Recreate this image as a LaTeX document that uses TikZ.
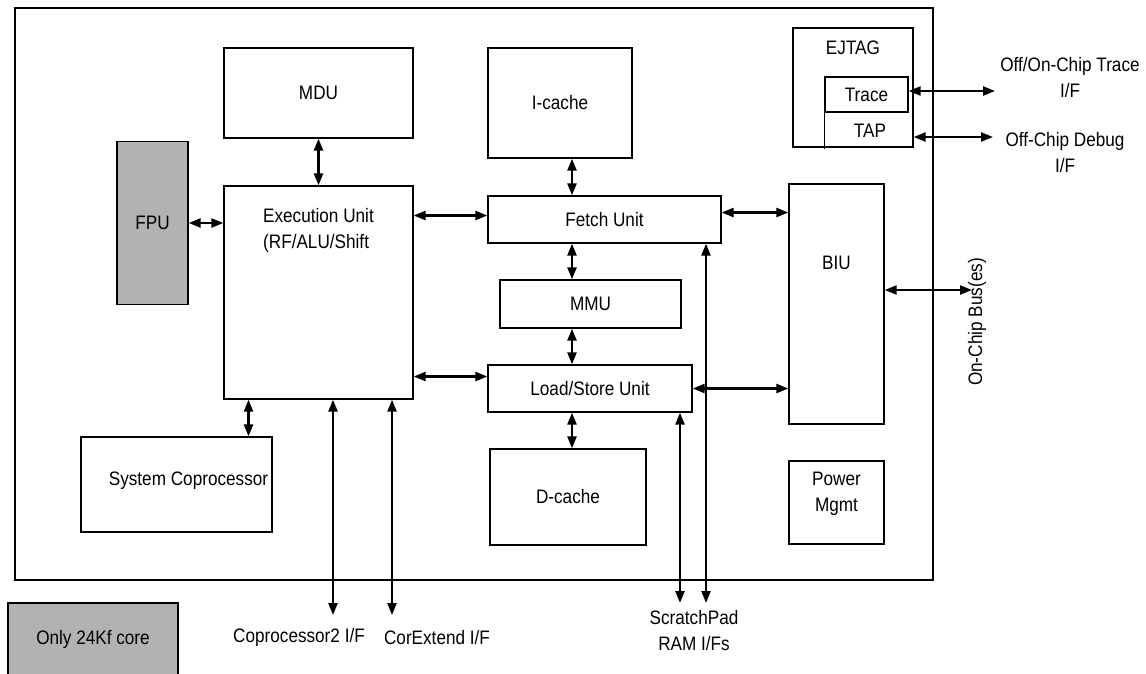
\documentclass[tikz,border=0pt]{standalone}
\usepackage{fontspec}
\setmainfont{Liberation Sans}[FakeStretch=0.88]
\usetikzlibrary{arrows.meta}
\newcommand{\blkfont}{\fontsize{19.5pt}{26pt}\selectfont}
\tikzset{
  blk/.style = {draw=black, line width=1.3pt, inner sep=0pt, align=center, font=\blkfont},
  core/.style = {blk, fill=black!30},
  txt/.style = {black, inner sep=0pt, align=center, font=\blkfont},
  link/.style = {<->, line width=2.4pt}
}
\begin{document}
\begin{tikzpicture}[x=1pt, y=-1pt, >={Triangle[length=12pt,width=9pt]}]
\useasboundingbox (0,0) rectangle (1146,673);

\draw [line width=1.3pt] (15,8) rectangle (933,580);

\node [blk, minimum width=189pt, minimum height=90pt] (mdu) at (318.5,93) {MDU};
\node [blk, minimum width=144pt, minimum height=110pt] (icache) at (560,103) {I-cache};
\node [blk, minimum width=120pt, minimum height=119pt,
  label={[txt, anchor=north, yshift=-13pt]north:EJTAG}] (ejtag) at (853,87.5) {};
\node [blk, minimum width=83pt, minimum height=35pt] (trace) at (866.5,94.5) {Trace};
\node [txt] (tap) at (870,131) {TAP};
\node [core, minimum width=71pt, minimum height=163pt] (fpu) at (152.5,223) {FPU};
\node [blk, minimum width=189pt, minimum height=213pt,
  label={[txt, anchor=north, align=left, yshift=-23pt]north:Execution Unit\\(RF/ALU/Shift}] (exec) at (318.5,292.5) {};
\node [blk, minimum width=233pt, minimum height=47pt] (fetch) at (604.5,219.5) {Fetch Unit};
\node [blk, minimum width=181pt, minimum height=48pt] (mmu) at (590.5,304) {MMU};
\node [blk, minimum width=204pt, minimum height=47pt] (ls) at (590,388.5) {Load/Store Unit};
\node [blk, minimum width=156pt, minimum height=96pt] (dcache) at (568,497) {D-cache};
\node [blk, minimum width=95pt, minimum height=240pt,
  label={[txt, yshift=41pt]center:BIU}] (biu) at (836.5,304) {};
\node [blk, minimum width=95pt, minimum height=83pt,
  label={[txt, yshift=9pt]center:Power\\Mgmt}] (power) at (836.5,502.5) {};
\node [blk, minimum width=191pt, minimum height=95pt,
  label={[txt, xshift=12pt, yshift=4pt]center:System Coprocessor}] (syscop) at (176.5,484.5) {};
\node [core, minimum width=170pt, minimum height=73pt] (legend) at (93,639.5) {Only 24Kf core};

% outside interfaces
\node [txt] (tracelbl) at (1070,78) {Off/On-Chip Trace\\I/F};
\node [txt] (debuglbl) at (1065,153) {Off-Chip Debug\\I/F};
\node [txt, rotate=90] (buslbl) at (977,322) {On-Chip Bus(es)};
\node [txt] (cop2lbl) at (299,637) {Coprocessor2 I/F};
\node [txt] (cxlbl) at (437,638) {CorExtend I/F};
\node [txt] (splbl) at (694,631) {ScratchPad\\RAM I/Fs};

\coordinate (spine) at (572,0);
\coordinate (traceif) at (995,91);
\coordinate (debugif) at (993,137);
\coordinate (busif) at (972,290);
\coordinate (cop2if) at (333,615);
\coordinate (cxif) at (392,615);
\coordinate (spif) at (680,603);
\coordinate (spif2) at (706,603);
\coordinate (efy) at ([yshift=4pt]fetch.west);
\coordinate (fby) at ([yshift=7pt]fetch.east);
\coordinate (ely) at ([yshift=12pt]ls.west);
\coordinate (scy) at ([xshift=72pt]syscop.north);

\draw [line width=1.3pt] (trace.south west) -- ([yshift=-1pt]trace.south west |- ejtag.south);

\draw [link] (mdu) -- (exec);
\draw [link] (fpu.east) -- (fpu.east -| exec.west);
\draw [link] (icache.south -| spine) -- (fetch.north -| spine);
\draw [link] (fetch.south -| spine) -- (mmu.north -| spine);
\draw [link] (mmu.south -| spine) -- (ls.north -| spine);
\draw [link] (ls.south -| spine) -- (dcache.north -| spine);
\draw [link] (exec.east |- efy) -- (efy);
\draw [link] (fby) -- (biu.west |- fby);
\draw [link] (exec.east |- ely) -- (ely);
\draw [link] (ls.east) -- (biu.west |- ls.east);
\draw [link] (exec.south -| scy) -- (scy);
\draw [link] (trace.east |- traceif) -- (traceif);
\draw [link] (ejtag.east |- debugif) -- (debugif);
\draw [link] (biu.east |- busif) -- (busif);
\draw [link] (exec.south -| cop2if) -- (cop2if);
\draw [link] (exec.south -| cxif) -- (cxif);
\draw [link] (ls.south -| spif) -- (spif);
\draw [link] (fetch.south -| spif2) -- (spif2);
\end{tikzpicture}
\end{document}
